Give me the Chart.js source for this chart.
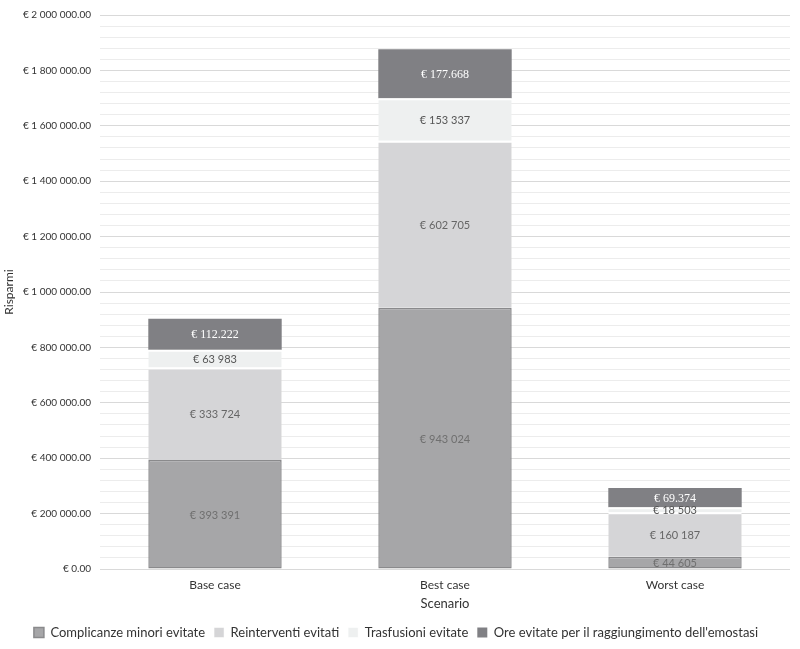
<!DOCTYPE html>
<html>
<head>
<meta charset="utf-8">
<script src="https://cdn.jsdelivr.net/npm/chart.js@4/dist/chart.umd.min.js"></script>
<style>
  html, body { margin: 0; padding: 0; background: #fff; }
  #wrap { width: 800px; height: 649px; }
</style>
</head>
<body>
<div id="wrap"><canvas id="chart" width="800" height="649"></canvas></div>
<script>
// Dati
const scenari = ['Base case', 'Best case', 'Worst case'];
const complicanze = [393391, 943024, 44605];
const reinterventi = [333724, 602705, 160187];
const trasfusioni = [63983, 153337, 18503];
const oreEmostasi = [112222, 177668, 69374];

// Etichette come nel grafico originale (le "Ore" usano il punto)
const etichetteComplicanze = ['€ 393 391', '€ 943 024', '€ 44 605'];
const etichetteReinterventi = ['€ 333 724', '€ 602 705', '€ 160 187'];
const etichetteTrasfusioni = ['€ 63 983', '€ 153 337', '€ 18 503'];
const etichetteOre = ['€ 112.222', '€ 177.668', '€ 69.374'];

const FONT = 'Lato, "Open Sans", sans-serif';

// Formatta i tick dell'asse y: "€ 1 200 000.00"
function formatEuro(v) {
  const parts = Math.round(v).toString().replace(/\B(?=(\d{3})+(?!\d))/g, ' ');
  return '€ ' + parts + '.00';
}

// Plugin per scrivere i valori al centro di ogni segmento
const etichettePlugin = {
  id: 'etichette',
  afterDatasetsDraw(chart) {
    const ctx = chart.ctx;
    chart.data.datasets.forEach((ds, i) => {
      const meta = chart.getDatasetMeta(i);
      meta.data.forEach((bar, j) => {
        const y = (bar.y + bar.base) / 2;
        ctx.save();
        ctx.textAlign = 'center';
        ctx.textBaseline = 'middle';
        ctx.fillStyle = ds.labelColor;
        ctx.font = ds.labelFont;
        ctx.fillText(ds.etichette[j], bar.x, y + 1);
        ctx.restore();
      });
    });
  }
};

const ctx = document.getElementById('chart').getContext('2d');
new Chart(ctx, {
  type: 'bar',
  data: {
    labels: scenari,
    datasets: [
      {
        label: 'Complicanze minori evitate',
        data: complicanze,
        etichette: etichetteComplicanze,
        backgroundColor: '#a6a6a8',
        borderColor: '#8a8a8c',
        borderWidth: 1.5,
        labelColor: '#6f6f6f',
        labelFont: '11px ' + FONT
      },
      {
        label: 'Reinterventi evitati',
        data: reinterventi,
        etichette: etichetteReinterventi,
        backgroundColor: '#d5d5d7',
        borderColor: '#ffffff',
        borderWidth: { top: 2 },
        labelColor: '#666666',
        labelFont: '11px ' + FONT
      },
      {
        label: 'Trasfusioni evitate',
        data: trasfusioni,
        etichette: etichetteTrasfusioni,
        backgroundColor: '#eef0f0',
        borderColor: '#ffffff',
        borderWidth: { top: 2 },
        labelColor: '#555555',
        labelFont: '11px ' + FONT
      },
      {
        label: "Ore evitate per il raggiungimento dell'emostasi",
        data: oreEmostasi,
        etichette: etichetteOre,
        backgroundColor: '#808084',
        borderColor: '#ffffff',
        borderWidth: 0,
        labelColor: '#ffffff',
        labelFont: '12px "Liberation Serif", "DejaVu Serif", serif'
      }
    ]
  },
  options: {
    responsive: false,
    animation: false,
    layout: { padding: { left: 2, right: 10, top: 2, bottom: 0 } },
    datasets: {
      bar: { categoryPercentage: 0.58, barPercentage: 1, borderSkipped: false }
    },
    plugins: {
      legend: {
        position: 'bottom',
        labels: {
          color: '#333',
          font: { family: FONT, size: 13 },
          boxWidth: 10,
          boxHeight: 10,
          padding: 9
        }
      },
      tooltip: { enabled: false }
    },
    scales: {
      x: {
        stacked: true,
        grid: { display: false },
        border: { display: false },
        ticks: { color: '#333', font: { family: FONT, size: 12 }, padding: 1 },
        title: { display: true, text: 'Scenario', color: '#333', font: { family: FONT, size: 13 }, padding: { top: 3, bottom: 5 } }
      },
      y: {
        stacked: true,
        min: 0,
        max: 2000000,
        border: { display: false },
        afterFit: scale => { scale.width = 98; },
        grid: {
          color: ctx => (ctx.tick && ctx.tick.value % 200000 === 0) ? '#d9d9d9' : '#ececec',
          drawTicks: false,
          lineWidth: 1
        },
        ticks: {
          stepSize: 40000,
          autoSkip: false,
          color: '#333',
          font: { family: FONT, size: 10 },
          padding: 9,
          callback: v => (v % 200000 === 0) ? formatEuro(v) : ''
        },
        title: { display: true, text: 'Risparmi', color: '#333', font: { family: FONT, size: 12 }, padding: { top: 0, bottom: 0 } }
      }
    }
  },
  plugins: [etichettePlugin]
});
</script>
</body>
</html>
